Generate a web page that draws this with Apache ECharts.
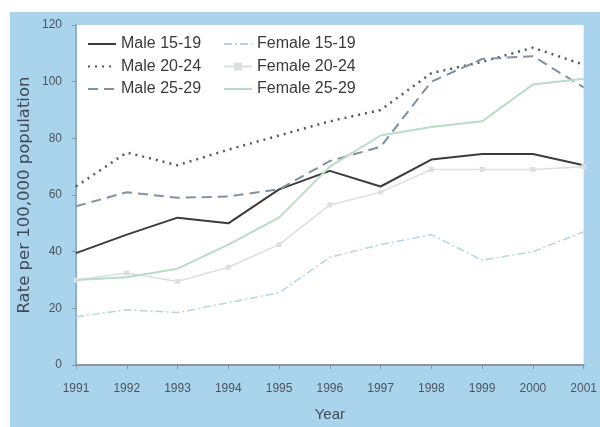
<!DOCTYPE html>
<html><head><meta charset="utf-8">
<script src="https://cdn.jsdelivr.net/npm/echarts@6/dist/echarts.min.js"></script>
<style>html,body{margin:0;padding:0;background:#fff}#c{width:600px;height:427px}</style>
</head><body><div id="c"></div>
<script>
const years = ['1991','1992','1993','1994','1995','1996','1997','1998','1999','2000','2001'];
const yTicks = [0,20,40,60,80,100,120];
const male1519 = [39.5,46,52,50,62,68.5,63,72.5,74.5,74.5,70.5];
const male2024 = [63,75,70.5,76,81,86,90,103,107,112,106];
const male2529 = [56,61,59,59.5,62,72,77,100,108,109,98];
const female1519 = [17,19.5,18.5,22,25.5,38,42.5,46,37,40,47];
const female2024 = [30,32.5,29.5,34.5,42.5,56.5,61,69,69,69,70];
const female2529 = [30,31,34,42.5,52,70,81,84,86,99,101];

const chart = echarts.init(document.getElementById('c'), null, {renderer:'canvas'});
const legendText = {fontSize:16, color:'#3a3a3a', fontFamily:'Liberation Sans, Arial, sans-serif'};
function s(name, data, color, width, type, extra){
  return Object.assign({name, type:'line', data, symbol:'none', smooth:false,
    lineStyle:{color, width, type}, itemStyle:{color}, z:3}, extra||{});
}
const legendCommon = {orient:'vertical', top:31, itemWidth:28, itemHeight:10, itemGap:6.5, textStyle:legendText,
  itemStyle:{opacity:0}};
chart.setOption({
  animation:false,
  graphic:[{type:'rect', z:-10, silent:true, shape:{x:10,y:12,width:590,height:415}, style:{fill:'#aad4ec'}}],
  grid:{left:76, right:7, top:25, bottom:61, show:true, backgroundColor:'#ffffff', borderWidth:0, z:0},
  legend:[
    Object.assign({left:82, data:['Male 15-19','Male 20-24','Male 25-29']}, legendCommon),
    Object.assign({left:218, data:['Female 15-19',{name:'Female 20-24', itemStyle:{opacity:1}},'Female 25-29']}, legendCommon)
  ],
  xAxis:{type:'category', data:years, boundaryGap:false,
    axisLine:{lineStyle:{color:'#8a97a3', width:2}},
    axisTick:{show:true, alignWithLabel:true, length:4, lineStyle:{color:'#8a97a3'}},
    axisLabel:{fontSize:12, color:'#4a5560', margin:18, fontFamily:'Liberation Sans, Arial, sans-serif'},
    name:'Year', nameLocation:'middle', nameGap:42, nameMoveOverlap:false,
    nameTextStyle:{fontSize:15, color:'#3f4a55', fontFamily:'Liberation Sans, Arial, sans-serif'}},
  yAxis:{type:'value', min:0, max:120, interval:20,
    axisLine:{show:true, lineStyle:{color:'#8fb0c8', width:2}},
    axisTick:{show:true, length:4, lineStyle:{color:'#8a97a3'}},
    splitLine:{show:false},
    axisLabel:{fontSize:12, color:'#4a5560', margin:14, fontFamily:'Liberation Sans, Arial, sans-serif',
      formatter:v=>yTicks.includes(v)?String(v):''},
    name:'Rate per 100,000 population', nameLocation:'middle', nameGap:43, nameMoveOverlap:false,
    nameTextStyle:{fontSize:16.5, color:'#3f4a55', fontFamily:'DejaVu Sans, sans-serif'}},
  series:[
    s('Male 15-19', male1519, '#3c3c3c', 2, 'solid'),
    s('Male 20-24', male2024, '#555a60', 2.5, [2,5]),
    s('Male 25-29', male2529, '#7f91a2', 2, [10,6]),
    s('Female 15-19', female1519, '#b3d6e6', 1.5, [8,3,2,3]),
    s('Female 20-24', female2024, '#dcdfdf', 1.5, 'solid', {symbol:'rect', symbolSize:5, showSymbol:true}),
    s('Female 25-29', female2529, '#b8dcc6', 2, 'solid')
  ]
});
</script></body></html>
